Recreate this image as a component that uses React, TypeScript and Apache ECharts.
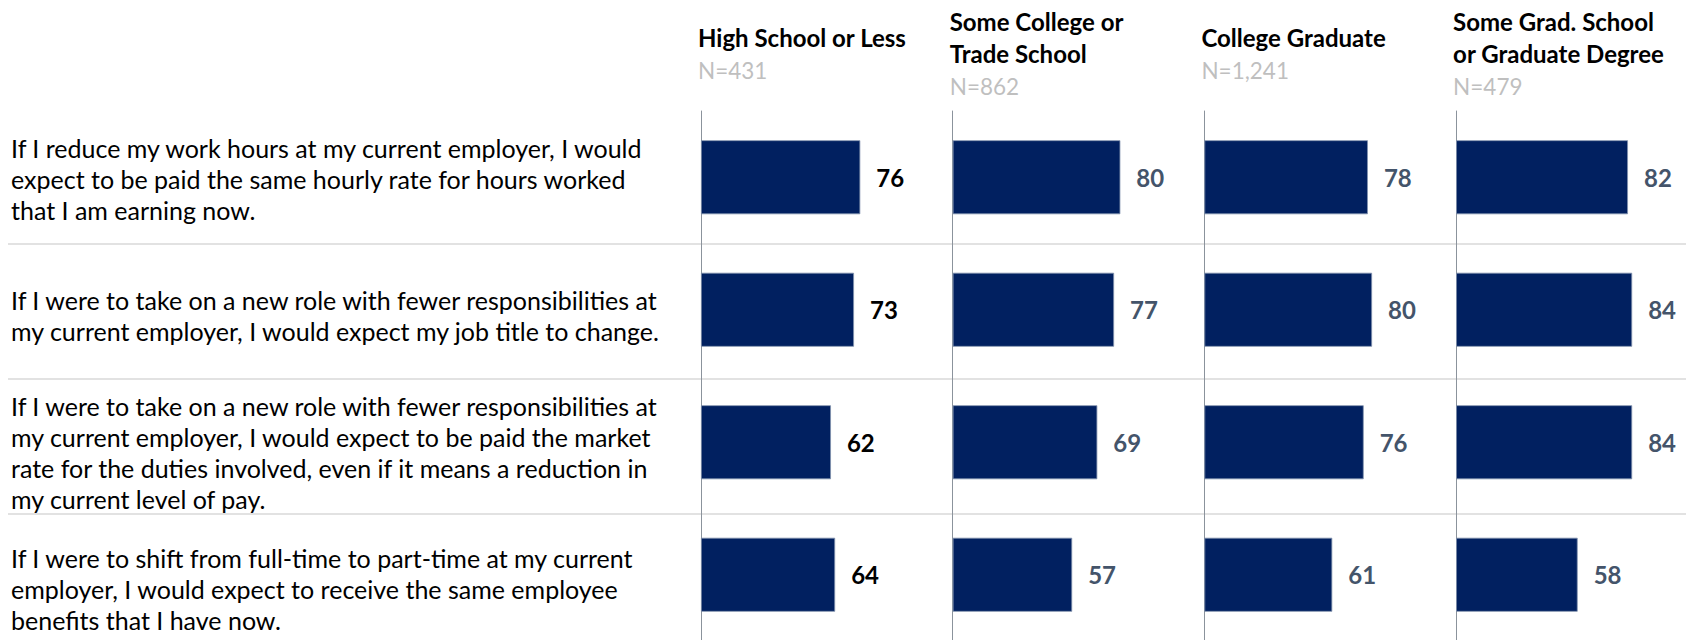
import React, { useEffect, useRef } from "react";
import * as echarts from "echarts";

const categories = [
  "If I reduce my work hours at my current employer, I would\nexpect to be paid the same hourly rate for hours worked\nthat I am earning now.",
  "If I were to take on a new role with fewer responsibilities at\nmy current employer, I would expect my job title to change.",
  "If I were to take on a new role with fewer responsibilities at\nmy current employer, I would expect to be paid the market\nrate for the duties involved, even if it means a reduction in\nmy current level of pay.",
  "If I were to shift from full-time to part-time at my current\nemployer, I would expect to receive the same employee\nbenefits that I have now.",
];
const groups = [
  "High School or Less",
  "Some College or\nTrade School",
  "College Graduate",
  "Some Grad. School\nor Graduate Degree",
];
const sampleSizes = ["N=431", "N=862", "N=1,241", "N=479"];
const highSchoolOrLess = [76, 73, 62, 64];
const someCollegeOrTrade = [80, 77, 69, 57];
const collegeGraduate = [78, 80, 76, 61];
const gradSchoolOrDegree = [82, 84, 84, 58];
const seriesValues = [highSchoolOrLess, someCollegeOrTrade, collegeGraduate, gradSchoolOrDegree];

const FONT = "Lato, 'Open Sans', sans-serif";
const PANEL_LEFT = 701;
const PANEL_STEP = 251.7;
const PANEL_WIDTH = 251.5;
const GRID_TOP = 111;
const GRID_HEIGHT = 530;
const LABEL_GRID_TOP = 110.5;
const LABEL_GRID_HEIGHT = 546.4;
const SEPARATORS_Y = [244, 379, 514];

export default function App() {
  const ref = useRef<HTMLDivElement>(null);
  useEffect(() => {
    if (!ref.current) return;
    const chart = echarts.init(ref.current, undefined, { renderer: "svg" });
    const grids: any[] = [];
    const xAxes: any[] = [];
    const yAxes: any[] = [];
    const series: any[] = [];
    const graphics: any[] = [];
    seriesValues.forEach((vals, i) => {
      grids.push({
        left: PANEL_LEFT + i * PANEL_STEP, top: GRID_TOP, width: PANEL_WIDTH, height: GRID_HEIGHT,
        outerBoundsMode: "none",
      });
      xAxes.push({
        gridIndex: i, type: "value", min: 0, max: 120, show: false,
        splitLine: { show: false },
      });
      yAxes.push({
        gridIndex: i, type: "category", data: categories, inverse: true,
        axisLine: { show: true, lineStyle: { color: "#8B939C", width: 1 } },
        axisTick: { show: false },
        splitLine: { show: false },
        axisLabel: { show: false },
      });
      series.push({
        type: "bar", xAxisIndex: i, yAxisIndex: i, data: vals, barWidth: 74,
        itemStyle: { color: "#012060", borderColor: "#8292ad", borderWidth: 0.8 },
        label: {
          show: true, position: "right", distance: 16, fontSize: 24, fontWeight: "bold",
          fontFamily: FONT, color: i === 0 ? "#000000" : "#44546A",
        },
      });
      graphics.push({
        type: "text",
        x: PANEL_LEFT + i * PANEL_STEP - 3, y: 54,
        style: {
          text: groups[i].split("\n").map((l) => `{h|${l}}`).join("\n") + `\n{n|${sampleSizes[i]}}`,
          verticalAlign: "middle", align: "left",
          rich: {
            h: { fontSize: 24, fontWeight: "bold", fill: "#000", fontFamily: FONT, lineHeight: 32 },
            n: { fontSize: 22.5, fill: "#BFBFBF", fontFamily: FONT, lineHeight: 34 },
          },
        },
      });
    });
    // label-only grid for the statement texts
    grids.push({
      left: PANEL_LEFT, top: LABEL_GRID_TOP, width: 10, height: LABEL_GRID_HEIGHT,
      outerBoundsMode: "none",
    });
    xAxes.push({ gridIndex: 4, type: "value", min: 0, max: 100, show: false });
    yAxes.push({
      gridIndex: 4, type: "category", data: categories, inverse: true,
      axisLine: { show: false }, axisTick: { show: false }, splitLine: { show: false },
      axisLabel: {
        show: true, interval: 0, align: "left", margin: PANEL_LEFT - 11,
        fontSize: 25, lineHeight: 31, color: "#000", fontFamily: FONT,
      },
    });
    SEPARATORS_Y.forEach((y) => {
      graphics.push({
        type: "line", shape: { x1: 8, y1: y, x2: 1686, y2: y }, z: -1,
        style: { stroke: "#D9D9D9", lineWidth: 1.5 },
      });
    });
    chart.setOption({
      animation: false,
      grid: grids, xAxis: xAxes, yAxis: yAxes, series, graphic: graphics,
    });
    return () => chart.dispose();
  }, []);
  return <div ref={ref} style={{ position: "fixed", left: 0, top: 0, width: 1689, height: 640, background: "#fff" }} />;
}
